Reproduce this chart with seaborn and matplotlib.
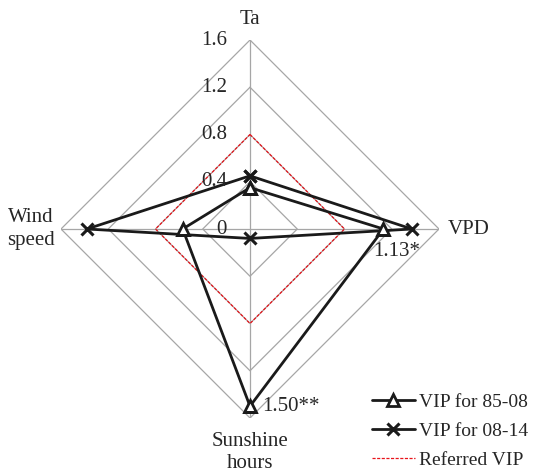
import numpy as np
import pandas as pd
import matplotlib
matplotlib.use("Agg")
import matplotlib.pyplot as plt
from matplotlib.transforms import offset_copy
from matplotlib.lines import Line2D
import seaborn as sns

# Radar axes (clockwise from the top)
categories = ["Ta", "VPD", "Sunshine\nhours", "Wind\nspeed"]
vip_85_08 = [0.35, 1.13, 1.50, 0.57]
vip_08_14 = [0.45, 1.37, 0.08, 1.38]
referred_vip = [0.8, 0.8, 0.8, 0.8]
grid_levels = [0.4, 0.8, 1.2, 1.6]
tick_labels = ["0", "0.4", "0.8", "1.2", "1.6"]
tick_values = [0.0, 0.4, 0.8, 1.2, 1.6]

sns.set_style("white")
plt.rcParams["font.family"] = ["Liberation Serif", "DejaVu Serif"]

fig = plt.figure(figsize=(5.37, 4.73), dpi=100)
ax = fig.add_axes([61 / 537, 55 / 473, 378 / 537, 378 / 473], projection="polar")
ax.set_theta_offset(np.pi / 2)
ax.set_theta_direction(-1)
ax.set_ylim(0, 1.6)
ax.grid(False)
ax.spines["polar"].set_visible(False)
ax.set_xticks([])
ax.set_yticks([])
ax.patch.set_alpha(0)

n = len(categories)
theta = np.arange(n) * 2 * np.pi / n
theta_closed = np.append(theta, 2 * np.pi)


def closed(vals):
    return np.append(vals, vals[0])


# diamond gridlines and spokes
for lvl in grid_levels:
    ax.plot(theta_closed, [lvl] * (n + 1), color="#a6a6a6", lw=0.9, zorder=1)
for t in theta:
    ax.plot([t, t], [0, 1.6], color="#a6a6a6", lw=0.9, zorder=1)

# reference polygon
ref_df = pd.DataFrame({"theta": theta_closed, "r": closed(referred_vip)})
sns.lineplot(data=ref_df, x="theta", y="r", sort=False, estimator=None, ax=ax,
             color="#e8141b", lw=0.9, linestyle=(0, (2.5, 1.2)), zorder=2)

df1 = pd.DataFrame({"theta": theta_closed, "r": closed(vip_85_08)})
sns.lineplot(data=df1, x="theta", y="r", sort=False, estimator=None, ax=ax,
             color="#1a1a1a", lw=2.0, marker="^", markersize=8,
             markerfacecolor="white", markeredgecolor="#1a1a1a",
             markeredgewidth=2.0, zorder=4)

df2 = pd.DataFrame({"theta": theta_closed, "r": closed(vip_08_14)})
sns.lineplot(data=df2, x="theta", y="r", sort=False, estimator=None, ax=ax,
             color="#1a1a1a", lw=2.0, marker="x", markersize=9,
             markeredgecolor="#1a1a1a", markeredgewidth=2.2, zorder=3)

ax.set_xlabel("")
ax.set_ylabel("")

# category labels
ax.text(theta[0], 1.77, categories[0], ha="center", va="center", fontsize=15, clip_on=False)
ax.text(theta[1], 1.676, categories[1], ha="left", va="center", fontsize=15, clip_on=False)
ax.text(theta[2], 1.89, categories[2], ha="center", va="center", fontsize=15,
        linespacing=1.2, clip_on=False)
ax.text(theta[3], 1.854, categories[3], ha="center", va="center", fontsize=15,
        linespacing=1.25, clip_on=False)

# radial tick labels beside the top spoke
tick_tr = offset_copy(ax.transData, fig=fig, x=-23, y=0, units="dots")
for v, s in zip(tick_values, tick_labels):
    ax.text(0, v, s, transform=tick_tr, ha="right", va="center", fontsize=15,
            color="#262626", clip_on=False)

# value annotations
lab_tr = offset_copy(ax.transData, fig=fig, x=13, y=-22, units="dots")
ax.text(theta[1], vip_85_08[1], f"{vip_85_08[1]:.2f}*", transform=lab_tr,
        ha="center", va="center", fontsize=15, color="#262626", clip_on=False)
lab_tr2 = offset_copy(ax.transData, fig=fig, x=12, y=0, units="dots")
ax.text(theta[2], vip_85_08[2], f"{vip_85_08[2]:.2f}**", transform=lab_tr2,
        ha="left", va="center", fontsize=15, color="#262626", clip_on=False)

handles = [
    Line2D([], [], color="#1a1a1a", lw=2.0, marker="^", markersize=8,
           markerfacecolor="white", markeredgewidth=2.0),
    Line2D([], [], color="#1a1a1a", lw=2.0, marker="x", markersize=9, markeredgewidth=2.2),
    Line2D([], [], color="#e8141b", lw=0.9, linestyle=(0, (2.5, 1.2))),
]
fig.legend(handles, ["VIP for 85-08", "VIP for 08-14", "Referred VIP"],
           loc="upper left", bbox_to_anchor=(372 / 537, 80 / 473),
           frameon=False, fontsize=14, handlelength=2.2, handletextpad=0.2,
           labelspacing=0.6, borderpad=0, borderaxespad=0)

fig.savefig("out.png", dpi=100)
